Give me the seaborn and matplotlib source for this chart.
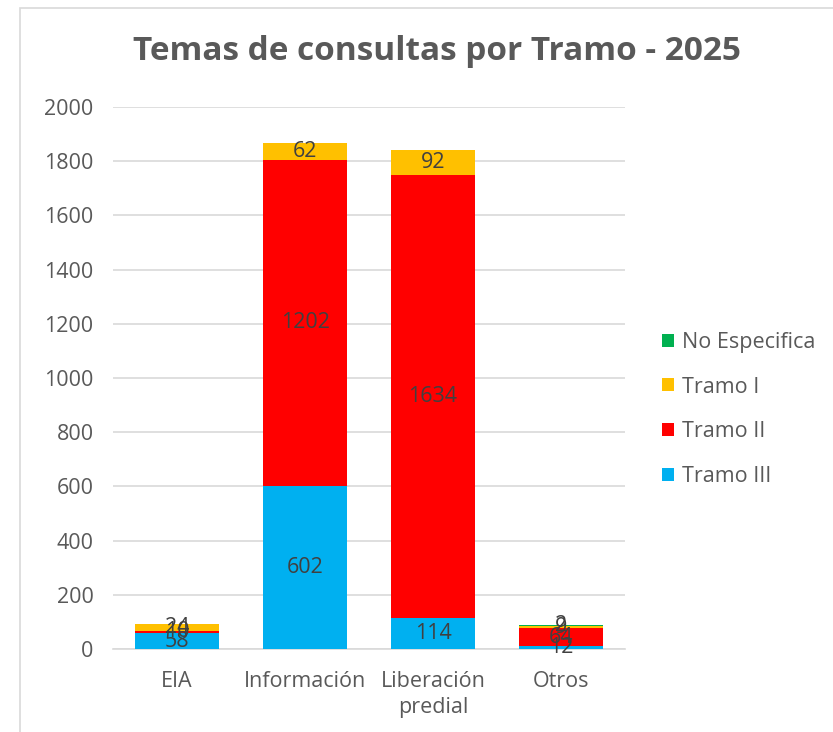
import matplotlib
matplotlib.use("Agg")
import numpy as np
import seaborn as sns
import matplotlib.pyplot as plt
from matplotlib.patches import Rectangle

sns.set_theme(style="white")
plt.rcParams['font.family'] = ['Open Sans', 'DejaVu Sans']

# Temas de consultas por tramo
categorias = ["EIA", "Información", "Liberación\npredial", "Otros"]
tramo_iii = [58, 602, 114, 12]
tramo_ii = [10, 1202, 1634, 64]
tramo_i = [24, 62, 92, 9]
no_especifica = [0, 0, 0, 2]

series = [
    ("Tramo III", tramo_iii, "#00B0F0"),
    ("Tramo II", tramo_ii, "#FF0000"),
    ("Tramo I", tramo_i, "#FFC000"),
    ("No Especifica", no_especifica, "#00B050"),
]

gris = "#595959"

fig = plt.figure(figsize=(8.33, 7.32), dpi=100)
ax = fig.add_axes([113 / 833, 1 - 649 / 732, 512 / 833, 542 / 732])

# marco del area del grafico
fig.patches.append(Rectangle((20 / 833, -0.1), 1.2, 1 - 8 / 732 + 0.1,
                             transform=fig.transFigure, fill=False,
                             edgecolor="#d9d9d9", linewidth=1.2))

base = np.zeros(len(categorias))
for nombre, vals, color in series:
    sns.barplot(x=categorias, y=vals, bottom=base, color=color, width=0.65,
                label=nombre, ax=ax, zorder=3, saturation=1, linewidth=0)
    for i, v in enumerate(vals):
        if nombre == "No Especifica" and v == 0:
            continue
        ax.text(i, base[i] + v / 2, str(v), ha="center", va="center",
                fontsize=15.5, color="#404040", zorder=5)
    base = base + np.array(vals)

ax.set_ylim(0, 2000)
ax.set_xlim(-0.5, 3.5)
ax.set_yticks(range(0, 2001, 200))
ax.yaxis.grid(True, color="#d9d9d9", linewidth=1.2, zorder=0)
ax.set_axisbelow(True)
for s in ["top", "right", "left"]:
    ax.spines[s].set_visible(False)
ax.spines["bottom"].set_color("#d9d9d9")
ax.spines["bottom"].set_linewidth(1.2)
ax.tick_params(axis="y", length=0, labelsize=15.5, labelcolor=gris, pad=14)
ax.tick_params(axis="x", length=0, labelsize=15.5, labelcolor=gris, pad=16)
for t in ax.get_xticklabels():
    t.set_linespacing(1.3)
ax.set_xlabel("")
ax.set_ylabel("")

fig.text(437 / 833, 1 - 52 / 732, "Temas de consultas por Tramo - 2025",
         ha="center", va="center", fontsize=24, fontweight="bold", color=gris)

handles, labels = ax.get_legend_handles_labels()
leg = ax.legend(handles[::-1], labels[::-1], loc="center left",
                bbox_to_anchor=(1.035, 0.442), frameon=False, fontsize=15.5,
                labelcolor=gris, handlelength=0.55, handleheight=0.55,
                handletextpad=0.35, labelspacing=1.1)

fig.savefig("out.png", dpi=100)
